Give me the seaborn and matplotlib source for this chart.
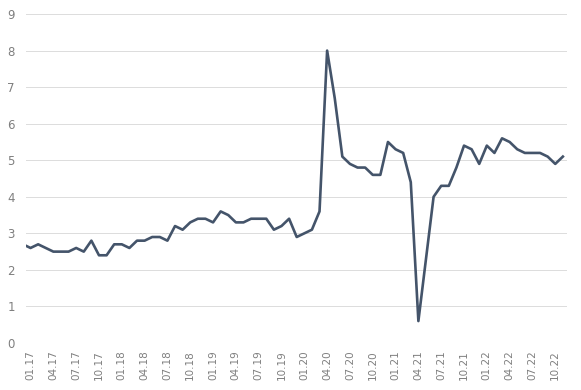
import numpy as np
import pandas as pd
import matplotlib
matplotlib.use('Agg')
import matplotlib.pyplot as plt
import seaborn as sns

# Monthly values, 12.16 (partly clipped at left edge) through 11.22
months = pd.date_range('2016-12-01', '2022-11-01', freq='MS')
values = [2.7,
          2.6, 2.7, 2.6, 2.5, 2.5, 2.5, 2.6, 2.5, 2.8, 2.4, 2.4, 2.7,   # 2017
          2.7, 2.6, 2.8, 2.8, 2.9, 2.9, 2.8, 3.2, 3.1, 3.3, 3.4, 3.4,   # 2018
          3.3, 3.6, 3.5, 3.3, 3.3, 3.4, 3.4, 3.4, 3.1, 3.2, 3.4, 2.9,   # 2019
          3.0, 3.1, 3.6, 8.0, 6.7, 5.1, 4.9, 4.8, 4.8, 4.6, 4.6, 5.5,   # 2020
          5.3, 5.2, 4.4, 0.6, 2.3, 4.0, 4.3, 4.3, 4.8, 5.4, 5.3, 4.9,   # 2021
          5.4, 5.2, 5.6, 5.5, 5.3, 5.2, 5.2, 5.2, 5.1, 4.9, 5.1]        # 2022

df = pd.DataFrame({'pos': np.arange(len(values)) - 1, 'value': values})
tick_pos = list(range(0, 70, 3))
tick_labels = [months[p + 1].strftime('%m.%y') for p in tick_pos]

fig = plt.figure(figsize=(5.81, 3.9), dpi=100)
ax = fig.add_axes([0.0447, 0.1205, 0.9313, 0.8435])

sns.lineplot(data=df, x='pos', y='value', ax=ax, color='#44546a', linewidth=1.9)

ax.set_xlim(-0.6, 70.55)
ax.set_ylim(0, 9)
ax.set_yticks(range(0, 10))
ax.set_xticks(tick_pos)
ax.set_xticklabels(tick_labels, rotation=90)
ax.tick_params(axis='both', length=0, colors='#7f7f7f')
ax.tick_params(axis='y', pad=8, labelsize=8.5)
ax.tick_params(axis='x', pad=5, labelsize=7.5)
ax.set_xlabel('')
ax.set_ylabel('')
ax.grid(axis='y', color='#dcdcdc', linewidth=0.7)
ax.grid(axis='x', visible=False)
ax.set_axisbelow(True)
for s in ax.spines.values():
    s.set_visible(False)

fig.savefig('out.png', dpi=100)
